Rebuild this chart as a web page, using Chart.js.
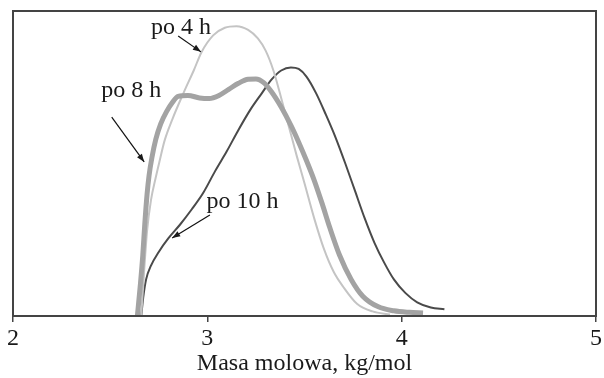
<!DOCTYPE html>
<html>
<head>
<meta charset="utf-8">
<script src="https://cdn.jsdelivr.net/npm/chart.js@4/dist/chart.umd.min.js"></script>
<style>
  html, body { margin: 0; padding: 0; background: #fff; }
  #wrap { width: 604px; height: 378px; }
</style>
</head>
<body>
<div id="wrap"><canvas id="mw" width="604" height="378"></canvas></div>
<script>
// po 4 h
var x4 = [2.66, 2.675, 2.69, 2.71, 2.733, 2.755, 2.78, 2.82, 2.88, 2.93, 2.97, 3.03, 3.09, 3.15, 3.21, 3.26, 3.30, 3.34, 3.38, 3.42, 3.46, 3.50, 3.55, 3.60, 3.65, 3.70, 3.77, 3.85, 3.94];
var y4 = [0, 15, 28, 38, 45, 51, 57.5, 64.5, 73.5, 80.5, 86.5, 92, 94.5, 95, 93.8, 91, 87, 80.5, 71.5, 62, 52.5, 43.5, 32, 22, 14.5, 9.5, 4, 1.5, 0.5];
// po 8 h
var x8 = [2.64, 2.655, 2.668, 2.678, 2.69, 2.70, 2.715, 2.735, 2.76, 2.79, 2.82, 2.85, 2.90, 2.96, 3.01, 3.06, 3.11, 3.16, 3.21, 3.25, 3.29, 3.33, 3.38, 3.43, 3.47, 3.51, 3.55, 3.59, 3.63, 3.68, 3.74, 3.80, 3.88, 3.96, 4.04, 4.11];
var y8 = [0, 10, 20, 30, 40, 46, 52, 58, 63, 67, 70, 72, 72.3, 71.5, 71.3, 72.3, 74.3, 76.3, 77.6, 77.7, 76.5, 73.5, 68.5, 62.5, 57, 51, 44.5, 37, 29, 20, 12, 6.5, 3, 1.7, 1.2, 1];
// po 10 h
var x10 = [2.66, 2.67, 2.685, 2.71, 2.75, 2.80, 2.86, 2.92, 2.98, 3.04, 3.10, 3.16, 3.22, 3.28, 3.33, 3.38, 3.43, 3.47, 3.51, 3.56, 3.61, 3.66, 3.71, 3.76, 3.81, 3.86, 3.91, 3.96, 4.02, 4.08, 4.15, 4.22];
var y10 = [0, 6, 12, 16.5, 21, 25.5, 30, 35, 40.5, 47.5, 54, 61, 67.5, 73, 77.5, 80.5, 81.5, 81, 78.5, 73, 66, 58.5, 50, 41, 32, 24, 17.5, 12, 7.5, 4.5, 2.8, 2.2];

var xTicks = [2, 3, 4, 5];

// annotation labels: text, label position, arrow start, arrow end (data units)
var notes = [
  { text: 'po 4 h', at: [2.865, 94.4], from: [2.850, 91.8], to: [2.967, 86.6] },
  { text: 'po 8 h', at: [2.609, 73.8], from: [2.508, 65.2], to: [2.675, 50.5] },
  { text: 'po 10 h', at: [3.181, 37.4], from: [3.013, 33.1], to: [2.819, 25.6] }
];

function pts(xs, ys) {
  return xs.map(function (v, i) { return { x: v, y: ys[i] }; });
}

var serif = "'Liberation Serif', 'Times New Roman', serif";

var frame = {
  id: 'frame',
  afterDraw: function (chart) {
    var c = chart.ctx, a = chart.chartArea;
    var sx = chart.scales.x, sy = chart.scales.y;
    c.save();
    c.strokeStyle = '#444';
    c.lineWidth = 2;
    c.strokeRect(a.left, a.top, a.right - a.left, a.bottom - a.top);

    c.fillStyle = '#1a1a1a';
    c.font = '24px ' + serif;
    c.textAlign = 'center';
    c.textBaseline = 'middle';
    notes.forEach(function (n) {
      c.fillText(n.text, sx.getPixelForValue(n.at[0]), sy.getPixelForValue(n.at[1]));
      var x1 = sx.getPixelForValue(n.from[0]), y1 = sy.getPixelForValue(n.from[1]);
      var x2 = sx.getPixelForValue(n.to[0]), y2 = sy.getPixelForValue(n.to[1]);
      c.strokeStyle = '#111';
      c.lineWidth = 1.2;
      c.beginPath();
      c.moveTo(x1, y1);
      c.lineTo(x2, y2);
      c.stroke();
      var ang = Math.atan2(y2 - y1, x2 - x1), L = 8, W = 3;
      c.beginPath();
      c.moveTo(x2, y2);
      c.lineTo(x2 - L * Math.cos(ang) + W * Math.sin(ang), y2 - L * Math.sin(ang) - W * Math.cos(ang));
      c.lineTo(x2 - L * Math.cos(ang) - W * Math.sin(ang), y2 - L * Math.sin(ang) + W * Math.cos(ang));
      c.closePath();
      c.fill();
    });
    c.restore();
  }
};

new Chart(document.getElementById('mw'), {
  type: 'scatter',
  data: {
    datasets: [
      {
        label: 'po 8 h',
        data: pts(x8, y8),
        showLine: true,
        borderColor: '#a3a3a3',
        borderWidth: 5,
        pointRadius: 0,
        cubicInterpolationMode: 'monotone'
      },
      {
        label: 'po 4 h',
        data: pts(x4, y4),
        showLine: true,
        borderColor: '#c4c4c4',
        borderWidth: 2,
        pointRadius: 0,
        cubicInterpolationMode: 'monotone'
      },
      {
        label: 'po 10 h',
        data: pts(x10, y10),
        showLine: true,
        borderColor: '#4a4a4a',
        borderWidth: 2,
        pointRadius: 0,
        cubicInterpolationMode: 'monotone'
      }
    ]
  },
  options: {
    responsive: false,
    animation: false,
    layout: { autoPadding: false, padding: { left: 13, right: 0, top: 11, bottom: 0 } },
    plugins: { legend: { display: false }, tooltip: { enabled: false } },
    scales: {
      x: {
        type: 'linear',
        min: 2,
        max: 5,
        afterBuildTicks: function (s) { s.ticks = xTicks.map(function (v) { return { value: v }; }); },
        afterFit: function (s) { s.height = 62; },
        ticks: { color: '#1a1a1a', font: { family: serif, size: 24 }, padding: 2, maxRotation: 0 },
        grid: { drawOnChartArea: false, drawTicks: true, tickLength: 6, color: '#444', lineWidth: 1.5 },
        border: { color: '#444', width: 2 },
        title: { display: true, text: 'Masa molowa, kg/mol', color: '#1a1a1a', font: { family: serif, size: 24 }, padding: { top: 0, bottom: 0 } }
      },
      y: {
        display: false,
        min: 0,
        max: 100
      }
    }
  },
  plugins: [frame]
});
</script>
</body>
</html>
